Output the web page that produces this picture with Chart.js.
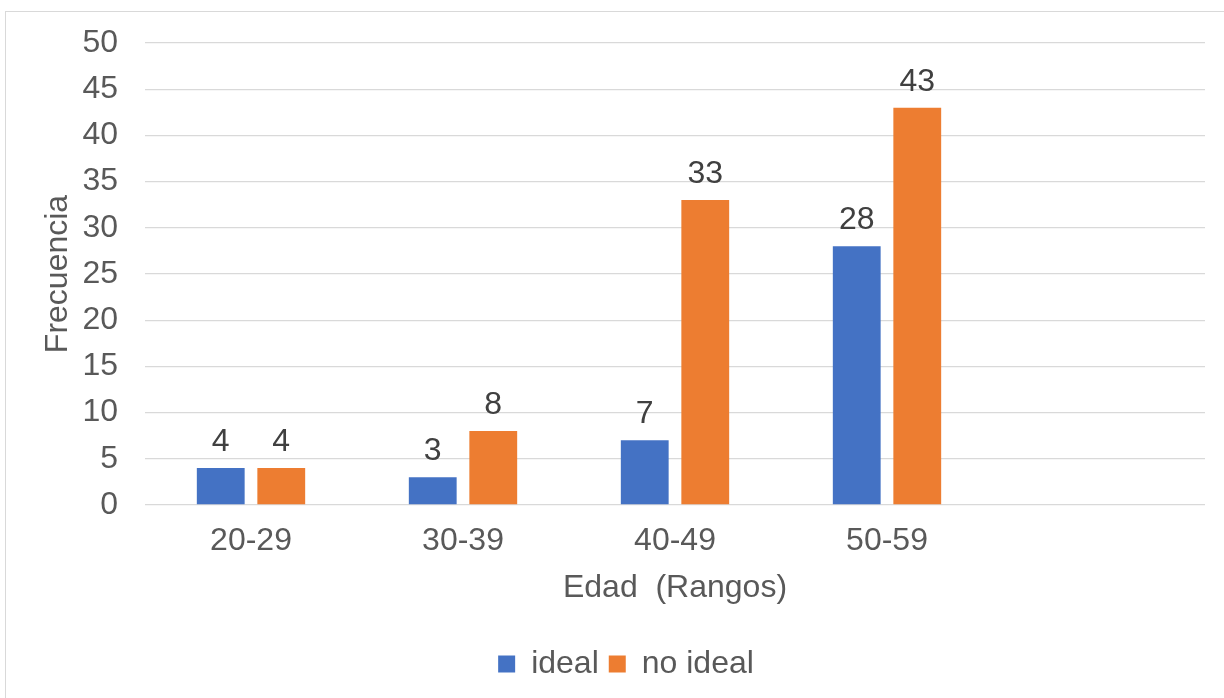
<!DOCTYPE html>
<html>
<head>
<meta charset="utf-8">
<script src="https://cdn.jsdelivr.net/npm/chart.js@4"></script>
<style>
  html, body { margin: 0; padding: 0; background: #ffffff; overflow: hidden; width: 1224px; height: 698px; }
  #frame { position: absolute; left: 5px; top: 11px; width: 1240px; height: 698px; border: 1px solid #d9d9d9; box-sizing: border-box; }
  #wrap { position: absolute; left: 5px; top: 11px; width: 1242px; height: 700px; }
</style>
</head>
<body>
<div id="frame"></div>
<div id="wrap"><canvas id="chart" width="1242" height="700"></canvas></div>
<script>
// Age ranges (last slot intentionally empty)
const categories = ['20-29', '30-39', '40-49', '50-59', ''];
// Frequency per age range
const idealValues = [4, 3, 7, 28, null];
const noIdealValues = [4, 8, 33, 43, null];
const seriesNames = ['ideal', 'no ideal'];
const yTicks = [0, 5, 10, 15, 20, 25, 30, 35, 40, 45, 50];

const FONT = '"Liberation Sans", Arial, sans-serif';
const TEXT = '#595959';

// Writes each bar's value above it
const valueLabels = {
  id: 'valueLabels',
  afterDatasetsDraw(chart) {
    const ctx = chart.ctx;
    ctx.save();
    ctx.font = '32px ' + FONT;
    ctx.fillStyle = '#404040';
    ctx.textAlign = 'center';
    ctx.textBaseline = 'alphabetic';
    chart.data.datasets.forEach((ds, di) => {
      const meta = chart.getDatasetMeta(di);
      meta.data.forEach((bar, i) => {
        const v = ds.data[i];
        if (v === null || v === undefined) return;
        ctx.fillText(String(v), bar.x, bar.y - 17);
      });
    });
    ctx.restore();
  }
};

new Chart(document.getElementById('chart'), {
  type: 'bar',
  data: {
    labels: categories,
    datasets: [
      { label: seriesNames[0], data: idealValues, backgroundColor: '#4472C4' },
      { label: seriesNames[1], data: noIdealValues, backgroundColor: '#ED7D31' }
    ]
  },
  options: {
    responsive: false,
    animation: false,
    events: [],
    categoryPercentage: 0.571,
    barPercentage: 0.79,
    layout: { padding: { top: 32, bottom: 21, left: 0, right: 0 } },
    plugins: {
      tooltip: { enabled: false },
      legend: {
        position: 'bottom',
        labels: {
          font: { family: FONT, size: 32 },
          color: TEXT,
          boxWidth: 17,
          boxHeight: 17,
          padding: 10
        }
      }
    },
    scales: {
      x: {
        grid: { display: false, drawTicks: false },
        border: { display: false },
        ticks: { font: { family: FONT, size: 32 }, color: TEXT, padding: 17 },
        title: {
          display: true,
          text: 'Edad  (Rangos)',
          font: { family: FONT, size: 32 },
          color: TEXT,
          padding: { top: 0, bottom: 31 }
        },
        afterFit(s) { s.height = 133; s.paddingLeft = 0; s.paddingRight = 0; }
      },
      y: {
        min: 0,
        max: 50,
        afterBuildTicks(s) { s.ticks = yTicks.map(v => ({ value: v })); },
        grid: { color: '#d9d9d9', lineWidth: 1.3, drawTicks: false },
        border: { display: false },
        ticks: { font: { family: FONT, size: 32 }, color: TEXT, padding: 27 },
        title: {
          display: true,
          text: 'Frecuencia',
          font: { family: FONT, size: 32 },
          color: TEXT,
          padding: { top: 34, bottom: 0 }
        },
        afterFit(s) { s.width = 140; s.paddingTop = 0; s.paddingBottom = 0; }
      },
      pad: {
        type: 'linear',
        position: 'right',
        grid: { display: false, drawTicks: false },
        border: { display: false },
        ticks: { display: false },
        afterFit(s) { s.width = 42; s.paddingTop = 0; s.paddingBottom = 0; }
      }
    }
  },
  plugins: [valueLabels]
});
</script>
</body>
</html>
